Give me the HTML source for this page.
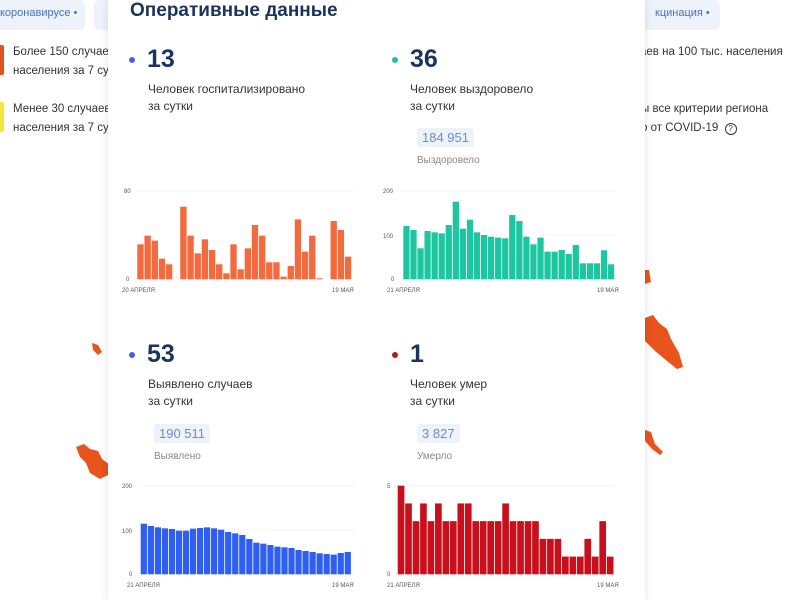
<!DOCTYPE html>
<html><head><meta charset="utf-8"><style>
*{margin:0;padding:0;box-sizing:border-box}
body{width:790px;height:600px;overflow:hidden;background:#fff;font-family:"Liberation Sans","Noto Sans CJK SC",sans-serif;position:relative}
.a{position:absolute;white-space:nowrap}
.panel{position:absolute;left:108px;top:0;width:537px;height:600px;background:#fff;box-shadow:0 0 8px rgba(0,0,0,0.12)}
.pill{position:absolute;background:#eef2fb;border-radius:6px;color:#4a6fc0;font-size:11px}
.big{font-size:25px;font-weight:bold;color:#1b335f}
.lbl{font-size:12px;color:#333;line-height:17px}
.box{position:absolute;background:#eef3fb;color:#6a8ccc;font-size:13px;padding:2px 5px;border-radius:3px}
.sub{font-size:10px;color:#888}
.dot{position:absolute;width:6px;height:6px;border-radius:50%}
.side{font-size:11.5px;color:#333;line-height:19px}
</style></head><body>
<div class="pill" style="left:-10px;top:0;width:95px;height:30px;padding:7px 0 0 10px">коронавирусе •</div>
<div class="pill" style="left:94px;top:0;width:30px;height:30px"></div>
<div class="pill" style="left:630px;top:0;width:90px;height:30px;padding:7px 0 0 25px">кцинация •</div>
<div class="a" style="left:-3px;top:45px;width:7px;height:30px;background:#e2521f;border-radius:2px"></div>
<div class="a" style="left:-3px;top:102px;width:7px;height:30px;background:#f4e63a;border-radius:2px"></div>
<div class="a side" style="left:13px;top:43px">Более 150 случаев<br>населения за 7 су</div>
<div class="a side" style="left:13px;top:100px">Менее 30 случаев<br>населения за 7 су</div>
<div class="a side" style="left:640px;top:43px">аев на 100 тыс. населения</div>
<div class="a side" style="left:641px;top:100px">ы все критерии региона<br>о от COVID-19 &nbsp;<span style="display:inline-block;width:12px;height:12px;border:1.3px solid #333;border-radius:50%;font-size:8px;text-align:center;line-height:10px">?</span></div>
<svg class="a" style="left:0;top:0" width="790" height="600">
<g fill="#e8541c">
<path d="M92 343l6 2 4 7-4 3-5-5z"/>
<path d="M76 447l8-3 6 5 8 2 4 8 8 6-2 10-8 4-10-6-4-10-6-6z"/>
<path d="M645 270l4 0 2 12-6 2z"/>
<path d="M645 318l8-3 6 8 8 6 4 10 8 14 4 14-6 2-10-8-12-10-10-10z"/>
<path d="M645 430l6 2 4 12 8 8-3 3-8-6-7-8z"/>
</g></svg>
<div class="panel"></div>
<div class="a" style="left:130px;top:0;font-size:19px;font-weight:bold;color:#1b335f">Оперативные данные</div>

<div class="dot" style="left:129px;top:57px;background:#4a62d0"></div>
<div class="a big" style="left:147px;top:45px">13</div>
<div class="a lbl" style="left:148px;top:81px">Человек госпитализировано<br>за сутки</div>

<div class="dot" style="left:392px;top:57px;background:#1fbf9c"></div>
<div class="a big" style="left:410px;top:45px">36</div>
<div class="a lbl" style="left:410px;top:81px">Человек выздоровело<br>за сутки</div>
<div class="box" style="left:417px;top:128px">184 951</div>
<div class="a sub" style="left:417px;top:155px">Выздоровело</div>

<div class="dot" style="left:129px;top:352px;background:#4a62d0"></div>
<div class="a big" style="left:147px;top:340px">53</div>
<div class="a lbl" style="left:148px;top:376px">Выявлено случаев<br>за сутки</div>
<div class="box" style="left:154px;top:424px">190 511</div>
<div class="a sub" style="left:154px;top:451px">Выявлено</div>

<div class="dot" style="left:392px;top:352px;background:#b51822"></div>
<div class="a big" style="left:410px;top:340px">1</div>
<div class="a lbl" style="left:410px;top:376px">Человек умер<br>за сутки</div>
<div class="box" style="left:417px;top:424px">3 827</div>
<div class="a sub" style="left:417px;top:451px">Умерло</div>

<svg class="a" style="left:0;top:0" width="790" height="600" font-family="Liberation Sans, sans-serif" font-size="6" fill="#555">
<g stroke="#f0f0f0" stroke-width="0.7">
<line x1="135" y1="191" x2="355" y2="191"/>
<line x1="400" y1="191" x2="615" y2="191"/><line x1="400" y1="235" x2="615" y2="235"/>
<line x1="138" y1="486" x2="355" y2="486"/><line x1="138" y1="530" x2="355" y2="530"/>
<line x1="395" y1="486" x2="615" y2="486"/>
</g>
<text x="124" y="193">80</text><text x="126" y="281">0</text>
<text x="122" y="292">20 АПРЕЛЯ</text><text x="332" y="292">19 МАЯ</text>
<text x="383" y="193">200</text><text x="383" y="238">100</text><text x="391" y="281">0</text>
<text x="387" y="292">21 АПРЕЛЯ</text><text x="597" y="292">19 МАЯ</text>
<text x="122" y="488">200</text><text x="122" y="533">100</text><text x="129" y="576">0</text>
<text x="127" y="587">21 АПРЕЛЯ</text><text x="332" y="587">19 МАЯ</text>
<text x="387" y="488">5</text><text x="387" y="576">0</text>
<text x="387" y="587">21 АПРЕЛЯ</text><text x="597" y="587">19 МАЯ</text>
<g id="c1" fill="#f26a3d"></g><g id="c2" fill="#1cc6a0"></g><g id="c3" fill="#2f5ff0"></g><g id="c4" fill="#c8101c"></g>
</svg>
<script>
function bars(id,x0,x1,base,top,vals){var g=document.getElementById(id),n=vals.length,w=(x1-x0)/n,s='';
for(var i=0;i<n;i++){if(vals[i]==null)continue;var y=top+vals[i]*(base-top);s+='<rect x="'+(x0+i*w).toFixed(2)+'" y="'+y.toFixed(2)+'" width="'+(w-0.8).toFixed(2)+'" height="'+(base-y).toFixed(2)+'"/>';}
g.innerHTML=s;}
function tz(arr,z0,z1){return arr.map(function(t){return t==null?null:(t-z0)/(z1-z0);});}
bars('c1',137.3,352,279.3,190.7,tz([193,167,182,236,253,null,80,167,220,178,210,253,280,193,268,205,135,167,247,247,290,258,118,215,167,295,null,123,150,230],32,298));
bars('c2',403.3,615,279.3,190.7,tz([138,150,205,153,157,160,135,65,146,119,157,165,170,173,175,105,123,170,193,173,215,215,210,222,195,250,250,250,211,253],32,298));
bars('c3',140.7,351.7,574.3,485.7,tz([146,153,157,160,162,167,167,161,159,157,160,164,171,175,180,192,203,206,210,215,217,219,225,228,231,235,237,239,234,231],32,298));
bars('c4',397.7,614.3,574.3,485.7,[5,4,3,4,3,4,3,3,4,4,3,3,3,3,4,3,3,3,3,2,2,2,1,1,1,2,1,3,1].map(function(v){return 1-v/5;}));
</script>
</body></html>
